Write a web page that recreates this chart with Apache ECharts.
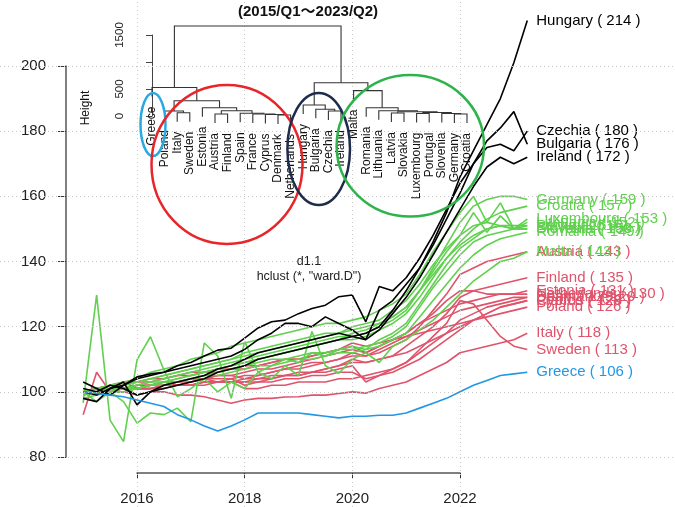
<!DOCTYPE html>
<html><head><meta charset="utf-8">
<script src="https://cdn.jsdelivr.net/npm/echarts@6/dist/echarts.min.js"></script>
<style>html,body{margin:0;padding:0;background:#fff}#c{width:675px;height:507px}</style>
</head><body><div id="c"></div>
<script>
const periods = ['2015/Q1','2015/Q2','2015/Q3','2015/Q4','2016/Q1','2016/Q2','2016/Q3','2016/Q4',
  '2017/Q1','2017/Q2','2017/Q3','2017/Q4','2018/Q1','2018/Q2','2018/Q3','2018/Q4',
  '2019/Q1','2019/Q2','2019/Q3','2019/Q4','2020/Q1','2020/Q2','2020/Q3','2020/Q4',
  '2021/Q1','2021/Q2','2021/Q3','2021/Q4','2022/Q1','2022/Q2','2022/Q3','2022/Q4',
  '2023/Q1','2023/Q2'];

// black cluster
const hungary  = [103,101,99,102,104.6,105.5,106,107,108,109,110,111,113,116,118,121,121,120,123,121,119,116,125,128,133,138,146,155,166,174,182,190,201,214];
const czechia  = [100,99,101,102,104,105,106,108,109,111,112.8,113.4,116.5,119.6,121.5,122,124,125.6,126.6,129.2,129.7,121.5,132.3,131,135,141,148,156,164,170,175,176,174,180];
const bulgaria = [101,100,102,101,99,100,101,102,103,104,106,107,108,110,111,112,113,114,115,116,117,118,120,125,131,138,145,153,161,170,177,181,186,176];
const ireland  = [98,97,101,103,96,100,102,103,104,105,107,108,110,112,113,114,115,116,117,118,117,116,119,124,129,135,142,149,156,163,169,172,170,172];
// green cluster
const germany    = [100,100,101,101,102,103,103,104,105,106,107,108,109,110,111,112,113,114,115,116,118,119,121,123,126,131,138,145,152,157,159,160,160,159];
const croatia    = [99,100,100,101,101,102,103,104,105,106,107,108,109,110,111,112,113,114,115,116,116,117,119,121,124,129,135,141,146,150,153,155,156,157];
const luxembourg = [100,101,102,103,104,106,107,108,110,111,112,114,115,116,117,118,119,120,121,121,122,123,125,127,130,136,143,149,155,160,152,158,150,153];
const lithuania  = [100,101,101,102,103,104,105,106,107,108,109,110,111,112,113,114,115,116,117,118,120,121,122,125,128,133,139,144,148,155,149,154,150,152];
const latvia     = [100,97,100,97,90.4,93.5,93,95,90.8,115,111,98,115.4,106,108,110,109,112,111,113,114,113,116,118,121,127,133,139,144,147,150,151,150,151];
const slovakia   = [100,100,101,101,102,103,104,105,106,107,108,109,110,111,112,113,114,115,116,117,117,118,120,122,125,131,137,143,148,151,152,151,150,150];
const portugal   = [99,100,101,102,103,104,105,106,107,108,109,110,112,113,114,115,116,117,118,118,119,120,121,123,126,131,136,141,145,148,150,151,151,151];
const slovenia   = [100,99,100,101,101,102,103,103,104,105,106,107,108,109,110,110,111,112,112,113,113,114,115,117,120,126,132,137,142,146,148,149,150,150];
const romania    = [98,99,100,100,101,102,102,103,104,105,105,106,107,108,108,109,110,110,111,112,112,113,114,116,118,123,128,133,138,142,145,147,148,149];
const malta      = [96.6,129.7,91.3,84.7,109.8,116.9,106.7,98.5,101,104,100,103,101,106,104,108,105,118.5,108,105.7,110,112,109,114,116,119,122,126,130,134,137,140,141,143];
// red cluster
const austria     = [100,100,101,101,102,102,103,103,104,104,105,105,104,105,106,107,108,109,109,110,111,111,112,114,116,120,125,130,136,138,140,141,142,143];
const finland     = [100,100,100,101,101,101,102,102,102,103,103,103,103,104,104,105,105,106,107,108,109,109,110,111,114,117,120,124,129,131,132,133,134,135];
const estonia     = [100,101,102,102,103,103,104,105,105,106,106,107,107,108,109,110,110,111,112,113,114,112,114,116,118,121,123,125,127,128,129,130,130,131];
const netherlands = [99,100,100,101,102,102,103,103,104,104,105,105,106,107,107,108,109,110,111,112,113,112,114,116,118,121,124,128,131,131,130,130,130,130];
const denmark     = [93,106,100,101,101,102,102,103,103,104,104,104,105,105,106,107,107,108,109,110,112,111,113,115,117,119,121,123,125,126,127,128,129,129];
const spain       = [100,100,100,101,101,101,102,102,102,102,103,103,103,103,104,105,105,106,106,107,108,103,105,107,109,112,115,118,122,124,126,127,128,129];
const france      = [99,100,100,100,101,101,101,102,102,103,103,103,104,104,105,105,106,106,107,108,110,109,110,111,112,114,116,118,120,122,124,126,127,128];
const cyprus      = [100,101,101,103,101,102,103,102,103,104,103,104,102,103,103,104,104,105,105,106,106,104,105,106,108,110,113,116,119,122,124,126,127,128];
const poland      = [100,101,102,103,103,104,104,105,106,106,107,107,108,108,109,110,110,111,112,113,115,114,115,116,117,118,119,120,121,122,123,124,125,126];
const italy       = [100,100,100,100,99,100,100,99,99,98.5,97.5,96.5,97.5,98,98,98.4,98.5,99,99,99.5,100,99.6,101,102,103,105,107,109,112,113,114,115,116,118];
const sweden      = [100,100,101,101,101,102,102,102,102,103,103,103,101,101,102,102,103,103,103,104,104,105,106,107,109,113,117,121,128,127,122,117,114,113];
// blue cluster
const greece = [100,99.5,99,98.5,97.5,96.5,95.5,93,91.4,89.5,88,89.5,91.4,93.5,93.5,93.5,93.5,93,92.5,92,92.5,92.5,92.8,92.8,93.5,95,96.5,98,100,102,103.5,105,105.5,106];

const clusterRed = {Austria:austria, Finland:finland, Estonia:estonia, Netherlands:netherlands, Denmark:denmark,
  Spain:spain, France:france, Cyprus:cyprus, Poland:poland, Italy:italy, Sweden:sweden};
const clusterGreen = {Germany:germany, Croatia:croatia, Luxembourg:luxembourg, Lithuania:lithuania, Latvia:latvia,
  Slovakia:slovakia, Portugal:portugal, Slovenia:slovenia, Romania:romania, Malta:malta};
const clusterBlack = {Hungary:hungary, Czechia:czechia, Bulgaria:bulgaria, Ireland:ireland};
const clusterBlue = {Greece:greece};

// dendrogram (hclust ward.D): leaves in plotting order; merges like R's merge matrix (negative = leaf)
const leaves = ['Greece','Poland','Italy','Sweden','Estonia','Austria','Finland','Spain','France','Cyprus',
  'Denmark','Netherlands','Hungary','Bulgaria','Czechia','Ireland','Malta','Romania','Lithuania','Latvia',
  'Slovakia','Luxembourg','Portugal','Slovenia','Germany','Croatia'];
const merges = [
  [-11,-12,18],[-10,1,28],[-9,2,37],[-8,3,50],[-6,-7,37],[5,4,98],[-5,6,154],[-3,-4,61],[-2,8,93],[9,7,283],
  [-1,10,528],[-15,-16,93],[-14,12,124],[-13,13,204],[-25,-26,37],[-24,15,46],[-22,-23,46],[17,16,65],
  [-20,-21,56],[19,18,80],[-19,20,98],[-18,21,154],[-17,22,469],[14,23,617],[11,24,1667]];
const heightTicks = [0,500,1000,1500];
const heightTickLabels = ['0','500','','1500'];

const yTicks = [80,100,120,140,160,180,200];
const xTicks = [2016,2018,2020,2022];

const FONT = '"Liberation Sans", Arial, "Noto Sans CJK JP", sans-serif';
const COLORS = {black:'#000000', green:'#61D04F', red:'#DF536B', blue:'#2297E6'};

const xs = periods.map(p => +p.slice(0,4) + (+p.slice(6) - 1) / 4);

// main axes frame (pixels)
const G = {left:137, right:215, top:66, bottom:50, W:675, H:507};
const xPerPx = (xTicks[xTicks.length-1]-xTicks[0]) / (G.W - G.left - G.right);
const yPerPx = (yTicks[yTicks.length-1]-yTicks[0]) / (G.H - G.top - G.bottom);

const series = [];
function addCluster(cl, color) {
  Object.keys(cl).forEach(name => {
    series.push({
      name, type:'line', xAxisIndex:1, yAxisIndex:1, clip:false, silent:true,
      data: cl[name].map((v,i) => [xs[i], v]),
      showSymbol:false, symbol:'none',
      lineStyle:{color, width:1.6}, itemStyle:{color},
      z:3,
      endLabel:{show:true, distance:9, color, fontSize:15, fontFamily:FONT,
        formatter: p => p.seriesName + ' ( ' + Math.round(p.value[1]) + ' )'}
    });
  });
}
addCluster(clusterRed, COLORS.red);
addCluster(clusterGreen, COLORS.green);
addCluster(clusterBlack, COLORS.black);
addCluster(clusterBlue, COLORS.blue);

// dotted grid lines across the whole page
series.push({
  type:'line', xAxisIndex:1, yAxisIndex:1, data:[], silent:true, symbol:'none', z:0,
  markLine:{silent:true, symbol:'none', label:{show:false}, animation:false,
    lineStyle:{color:'#c8c8c8', width:1, type:[1,3]},
    data: xTicks.map(v => ({xAxis:v})).concat(yTicks.map(v => ({yAxis:v})))}
});

// dendrogram geometry
const maxH = Math.max(...merges.map(m => m[2]));
const hang = 0.1 * maxH;
const nodeX = [], segs = [], leafInfo = [];
function childX(c) { return c < 0 ? (-c - 1) : nodeX[c - 1]; }
merges.forEach((m, k) => {
  const [a, b, h] = m;
  const xa = childX(a), xb = childX(b);
  nodeX[k] = (xa + xb) / 2;
  const ha = a < 0 ? h - hang : merges[a - 1][2];
  const hb = b < 0 ? h - hang : merges[b - 1][2];
  if (a < 0) leafInfo.push([xa, h - hang, leaves[-a - 1]]);
  if (b < 0) leafInfo.push([xb, h - hang, leaves[-b - 1]]);
  segs.push([xa, ha, xb, hb, h]);
});
series.push({
  type:'custom', xAxisIndex:2, yAxisIndex:2, clip:false, silent:true, z:5,
  data: segs, encode:{x:[0,2], y:[1,3,4]},
  renderItem:(params, api) => {
    const p1 = api.coord([api.value(0), api.value(1)]);
    const p2 = api.coord([api.value(0), api.value(4)]);
    const p3 = api.coord([api.value(2), api.value(4)]);
    const p4 = api.coord([api.value(2), api.value(3)]);
    return {type:'polyline', shape:{points:[p1,p2,p3,p4]}, style:{stroke:'#333', lineWidth:1.1, fill:null}};
  }
});
series.push({
  type:'custom', xAxisIndex:2, yAxisIndex:2, clip:false, silent:true, z:5,
  data: leafInfo, encode:{x:0, y:1},
  renderItem:(params, api) => {
    const p = api.coord([api.value(0), api.value(1)]);
    return {type:'text', x:p[0], y:p[1] + 10, rotation:Math.PI/2,
      style:{text: leafInfo[params.dataIndex][2], align:'right', verticalAlign:'middle',
        font:'12px ' + FONT, fill:'#111'}};
  }
});

const option = {
  animation:false,
  backgroundColor:'#fff',
  title:{text:'(2015/Q1～2023/Q2)', left:233, top:-1,
    textStyle:{fontSize:15, fontWeight:'bold', color:'#111', fontFamily:FONT}},
  grid:[
    {left:G.left, right:G.right, top:G.top, bottom:G.bottom},
    {left:0, right:0, top:0, bottom:0},
    {left:152, right:208, top:35, bottom:391}
  ],
  xAxis:[
    {type:'value', gridIndex:0, min:2016, max:2022, interval:2, offset:16,
      axisLine:{show:true, lineStyle:{color:'#555', width:1.5}},
      axisTick:{show:true, length:6, lineStyle:{color:'#333'}},
      axisLabel:{margin:18, fontSize:15, color:'#222', fontFamily:FONT, formatter: v => String(v)},
      splitLine:{show:false}},
    {type:'value', gridIndex:1, min:xTicks[0] - G.left*xPerPx, max:xTicks[xTicks.length-1] + G.right*xPerPx,
      show:false, splitLine:{show:false}},
    {type:'value', gridIndex:2, min:0, max:leaves.length - 1, show:false, splitLine:{show:false}}
  ],
  yAxis:[
    {type:'value', gridIndex:0, min:80, max:200, interval:20, offset:71,
      axisLine:{show:true, lineStyle:{color:'#555', width:1.5}},
      axisTick:{show:true, length:8, lineStyle:{color:'#333'}},
      axisLabel:{margin:20, fontSize:15, color:'#222', fontFamily:FONT},
      splitLine:{show:false}},
    {type:'value', gridIndex:1, min:yTicks[0] - G.bottom*yPerPx, max:yTicks[yTicks.length-1] + G.top*yPerPx,
      show:false, splitLine:{show:false}},
    {type:'value', gridIndex:2, min:0, max:1500, interval:500, offset:13,
      axisLine:{show:true, lineStyle:{color:'#444', width:1}},
      axisTick:{show:true, length:6, lineStyle:{color:'#444'}},
      axisLabel:{rotate:90, margin:13, fontSize:11.5, color:'#222', fontFamily:FONT,
        formatter: v => heightTickLabels[heightTicks.indexOf(v)]},
      splitLine:{show:false}}
  ],
  graphic:[
    {type:'text', x:86, y:108, rotation:Math.PI/2, z:10,
      style:{text:'Height', align:'center', verticalAlign:'middle', font:'12px ' + FONT, fill:'#111'}},
    {type:'text', x:309, y:262, z:10,
      style:{text:'d1.1', align:'center', verticalAlign:'middle', font:'12.5px ' + FONT, fill:'#222'}},
    {type:'text', x:309, y:277, z:10,
      style:{text:'hclust (*, "ward.D")', align:'center', verticalAlign:'middle', font:'12.5px ' + FONT, fill:'#222'}},
    {type:'ellipse', shape:{cx:153, cy:124.5, rx:12.5, ry:31.5}, z:20, style:{fill:null, stroke:'#29A9E1', lineWidth:2.5}},
    {type:'ellipse', shape:{cx:227, cy:164.5, rx:75.5, ry:79.5}, z:20, style:{fill:null, stroke:'#E8262A', lineWidth:2.5}},
    {type:'ellipse', shape:{cx:318.7, cy:149, rx:31.3, ry:56}, z:20, style:{fill:null, stroke:'#1E2D4B', lineWidth:2.5}},
    {type:'ellipse', shape:{cx:410.3, cy:145.8, rx:73.7, ry:70.8}, z:20, style:{fill:null, stroke:'#2DB34A', lineWidth:2.5}}
  ],
  series
};
const chart = echarts.init(document.getElementById('c'), null, {width:675, height:507});
chart.setOption(option);
</script></body></html>
